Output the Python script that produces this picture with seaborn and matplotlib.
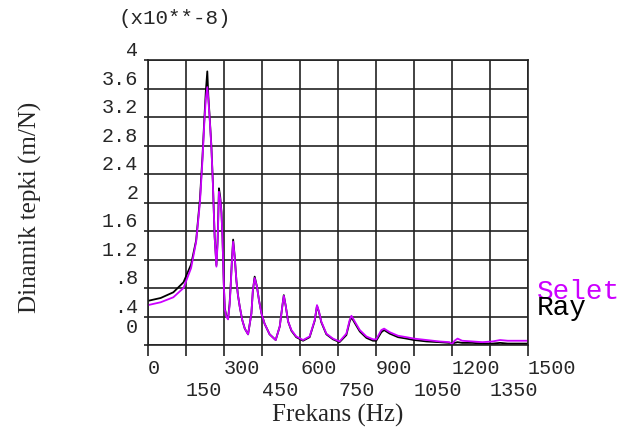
import numpy as np
import pandas as pd
import seaborn as sns
from matplotlib import pyplot as plt
from matplotlib.transforms import ScaledTranslation

# frekans noktalari (Hz)
freq = [0, 50, 100, 140, 170, 190, 205, 215, 222, 228, 234, 238, 243, 250, 256, 263, 270, 275, 280,
        285, 290, 294, 299, 303, 309, 316, 322, 326, 331, 336, 342, 349, 355, 362, 372, 382, 395,
        408, 414, 421, 430, 438, 448, 460, 480, 504, 520, 530, 536, 544, 553, 566, 585, 612, 638,
        658, 667, 675, 684, 704, 730, 756, 783, 796, 803, 816, 836, 862, 888, 901, 921, 932, 954,
        987, 1020, 1050, 1100, 1150, 1190, 1200, 1210, 1222, 1240, 1280, 1320, 1360, 1390, 1420,
        1460, 1500]

# dinamik tepki (x10^-8 m/N)
selet = [0.56, 0.60, 0.67, 0.80, 1.08, 1.45, 2.00, 2.60, 3.10, 3.45, 3.62, 3.45, 3.20, 2.78, 2.27,
         1.52, 1.10, 1.45, 2.15, 2.05, 1.85, 1.50, 0.87, 0.50, 0.40, 0.36, 0.55, 0.80, 1.15, 1.45,
         1.24, 0.90, 0.70, 0.54, 0.35, 0.23, 0.15, 0.44, 0.77, 0.94, 0.82, 0.63, 0.44, 0.30, 0.15,
         0.07, 0.26, 0.54, 0.69, 0.54, 0.33, 0.21, 0.12, 0.07, 0.12, 0.35, 0.56, 0.47, 0.33, 0.16,
         0.09, 0.05, 0.16, 0.35, 0.41, 0.33, 0.21, 0.12, 0.08, 0.08, 0.21, 0.23, 0.18, 0.13, 0.11,
         0.09, 0.07, 0.05, 0.04, 0.01, 0.06, 0.09, 0.06, 0.05, 0.04, 0.05, 0.07, 0.06, 0.06, 0.06]

ray = [0.62, 0.66, 0.74, 0.88, 1.13, 1.47, 2.05, 2.65, 3.15, 3.55, 3.84, 3.50, 3.22, 2.80, 2.28,
       1.52, 1.12, 1.50, 2.20, 2.08, 1.86, 1.50, 0.87, 0.52, 0.41, 0.37, 0.58, 0.82, 1.18, 1.48,
       1.25, 0.90, 0.70, 0.54, 0.35, 0.23, 0.15, 0.44, 0.77, 0.96, 0.82, 0.63, 0.44, 0.30, 0.15,
       0.07, 0.26, 0.54, 0.70, 0.54, 0.33, 0.20, 0.11, 0.06, 0.11, 0.34, 0.55, 0.46, 0.32, 0.15,
       0.08, 0.04, 0.14, 0.33, 0.39, 0.31, 0.19, 0.10, 0.06, 0.06, 0.18, 0.21, 0.16, 0.11, 0.09,
       0.07, 0.05, 0.04, 0.03, 0.02, 0.03, 0.04, 0.03, 0.03, 0.02, 0.02, 0.03, 0.02, 0.02, 0.02]

xticks = [0, 150, 300, 450, 600, 750, 900, 1050, 1200, 1350, 1500]
yticks = [0, 0.4, 0.8, 1.2, 1.6, 2.0, 2.4, 2.8, 3.2, 3.6, 4.0]
ytick_labels = ['0', '.4', '.8', '1.2', '1.6', '2', '2.4', '2.8', '3.2', '3.6', '4']

sns.set_style('white')
plt.rcParams['font.family'] = ['Liberation Mono', 'DejaVu Sans Mono']

df = pd.DataFrame({
    'Frekans': freq + freq,
    'Tepki': ray + selet,
    'Model': ['Ray'] * len(freq) + ['Selet'] * len(freq),
})

fig = plt.figure(figsize=(6.35, 4.37), dpi=100)
ax = fig.add_axes([0.2331, 0.2105, 0.5984, 0.6522])

sns.lineplot(data=df, x='Frekans', y='Tepki', hue='Model', hue_order=['Ray', 'Selet'],
             palette={'Ray': 'black', 'Selet': '#cc00ff'}, estimator=None, sort=False,
             linewidth=1.3, legend=False, ax=ax)

ax.set_xlim(0, 1500)
ax.set_ylim(0, 4)

# x etiketleri iki satir, sola dayali
xlabels = [str(t) if i % 2 == 0 else '\n' + str(t) for i, t in enumerate(xticks)]
ax.set_xticks(xticks)
ax.set_xticklabels(xlabels, ha='left', fontsize=14.5)
ax.set_yticks(yticks)
ax.set_yticklabels(ytick_labels, va='bottom', fontsize=14.5)
ax.tick_params(axis='x', bottom=True, length=8, width=1.2, pad=2, direction='out', color='#222222')
ax.tick_params(axis='y', left=True, length=3, width=1.2, pad=4, direction='out', color='#222222')
zero = ax.get_yticklabels()[0]
zero.set_transform(zero.get_transform() + ScaledTranslation(0, 6 / 72, fig.dpi_scale_trans))

ax.grid(True, color='#222222', linewidth=1.2)
for s in ax.spines.values():
    s.set_color('#222222')
    s.set_linewidth(1.2)

ax.set_xlabel('Frekans (Hz)', family='Liberation Serif', fontsize=18)
ax.set_ylabel('Dinamik tepki (m/N)', family='Liberation Serif', fontsize=18)
ax.xaxis.set_label_coords(0.5, -0.205)
ax.yaxis.set_label_coords(-0.28, 0.484)

ax.text(1.024, 0.186, 'Selet', color='#cc00ff', fontsize=20, va='center', transform=ax.transAxes)
ax.text(1.024, 0.13, 'Ray', color='black', fontsize=20, va='center', transform=ax.transAxes)
fig.text(118 / 635, 1 - 18 / 437, '(x10**-8)', fontsize=15, va='center')

fig.savefig('out.png', dpi=100)
